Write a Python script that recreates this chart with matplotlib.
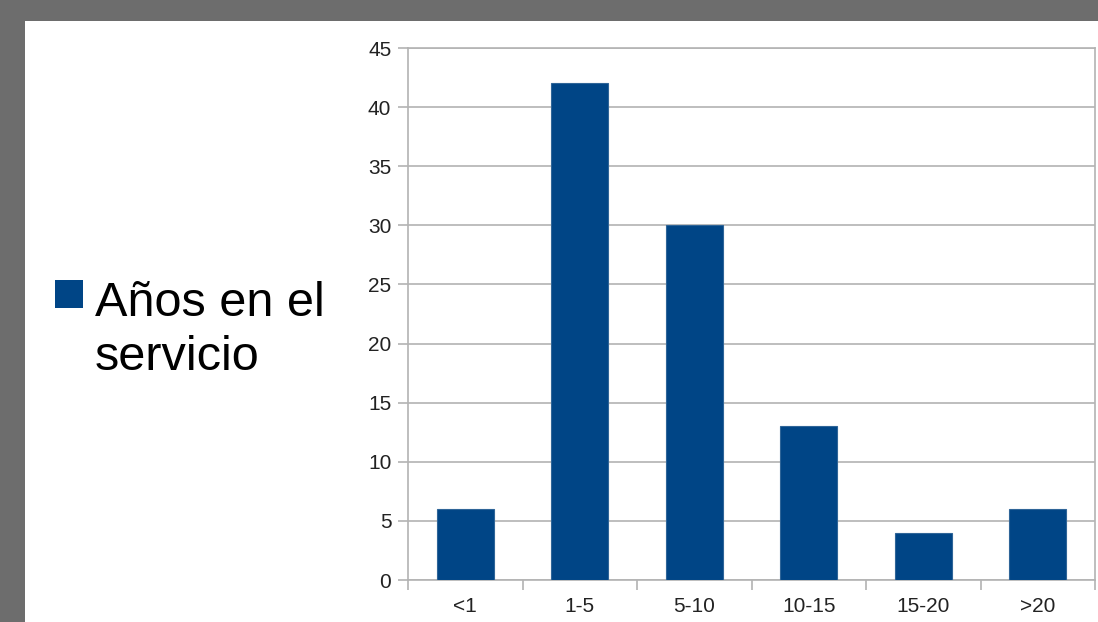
import matplotlib.pyplot as plt
from matplotlib.patches import Rectangle

plt.rcParams['font.family'] = ['Liberation Sans', 'DejaVu Sans']

categorias = ['<1', '1-5', '5-10', '10-15', '15-20', '>20']
anios_servicio = [6, 42, 30, 13, 4, 6]
etiqueta_serie = 'Años en el\nservicio'

W, H = 1098, 622
azul = '#004586'
gris = '#b3b3b3'


def main():
    fig = plt.figure(figsize=(W / 100, H / 100), dpi=100, facecolor='#6d6d6d')

    # white page area inside the dark frame
    fig.patches.append(Rectangle((25 / W, 0), 1 - 25 / W, 1 - 21 / H,
                                 transform=fig.transFigure, facecolor='white',
                                 edgecolor='none', zorder=-5))

    ax = fig.add_axes([408 / W, (H - 580) / H, (1095 - 408) / W, (580 - 48) / H])
    ax.set_zorder(2)
    x = range(len(categorias))
    ax.bar(x, anios_servicio, width=0.5, color=azul, edgecolor='#2f6598',
           linewidth=0.8, zorder=3)

    ax.set_ylim(0, 45)
    ax.set_yticks(range(0, 46, 5))
    ax.set_xlim(-0.5, len(categorias) - 0.5)
    ax.set_xticks(list(x))
    ax.set_xticklabels(categorias)
    ax.set_xticks([i - 0.5 for i in range(len(categorias) + 1)], minor=True)

    ax.yaxis.grid(True, color=gris, linewidth=1.2, zorder=0)
    ax.set_axisbelow(True)
    for s in ax.spines.values():
        s.set_color(gris)
        s.set_linewidth(1.2)

    ax.tick_params(axis='y', length=7, width=1.2, color=gris, labelsize=15,
                   labelcolor='#222222', pad=5)
    ax.tick_params(axis='x', which='major', length=0, labelsize=15,
                   labelcolor='#222222', pad=12)
    ax.tick_params(axis='x', which='minor', length=7, width=1.2, color=gris)

    # legend drawn by hand: square marker plus wrapped label
    fig.patches.append(Rectangle((55 / W, 1 - 308 / H), 28 / W, 28 / H,
                                 transform=fig.transFigure, facecolor=azul,
                                 edgecolor='none', zorder=3))
    fig.text(95 / W, 1 - 281 / H, etiqueta_serie, fontsize=35, va='top',
             ha='left', color='black', linespacing=1.25)

    fig.savefig('out.png', dpi=100, facecolor=fig.get_facecolor())


if __name__ == '__main__':
    main()
